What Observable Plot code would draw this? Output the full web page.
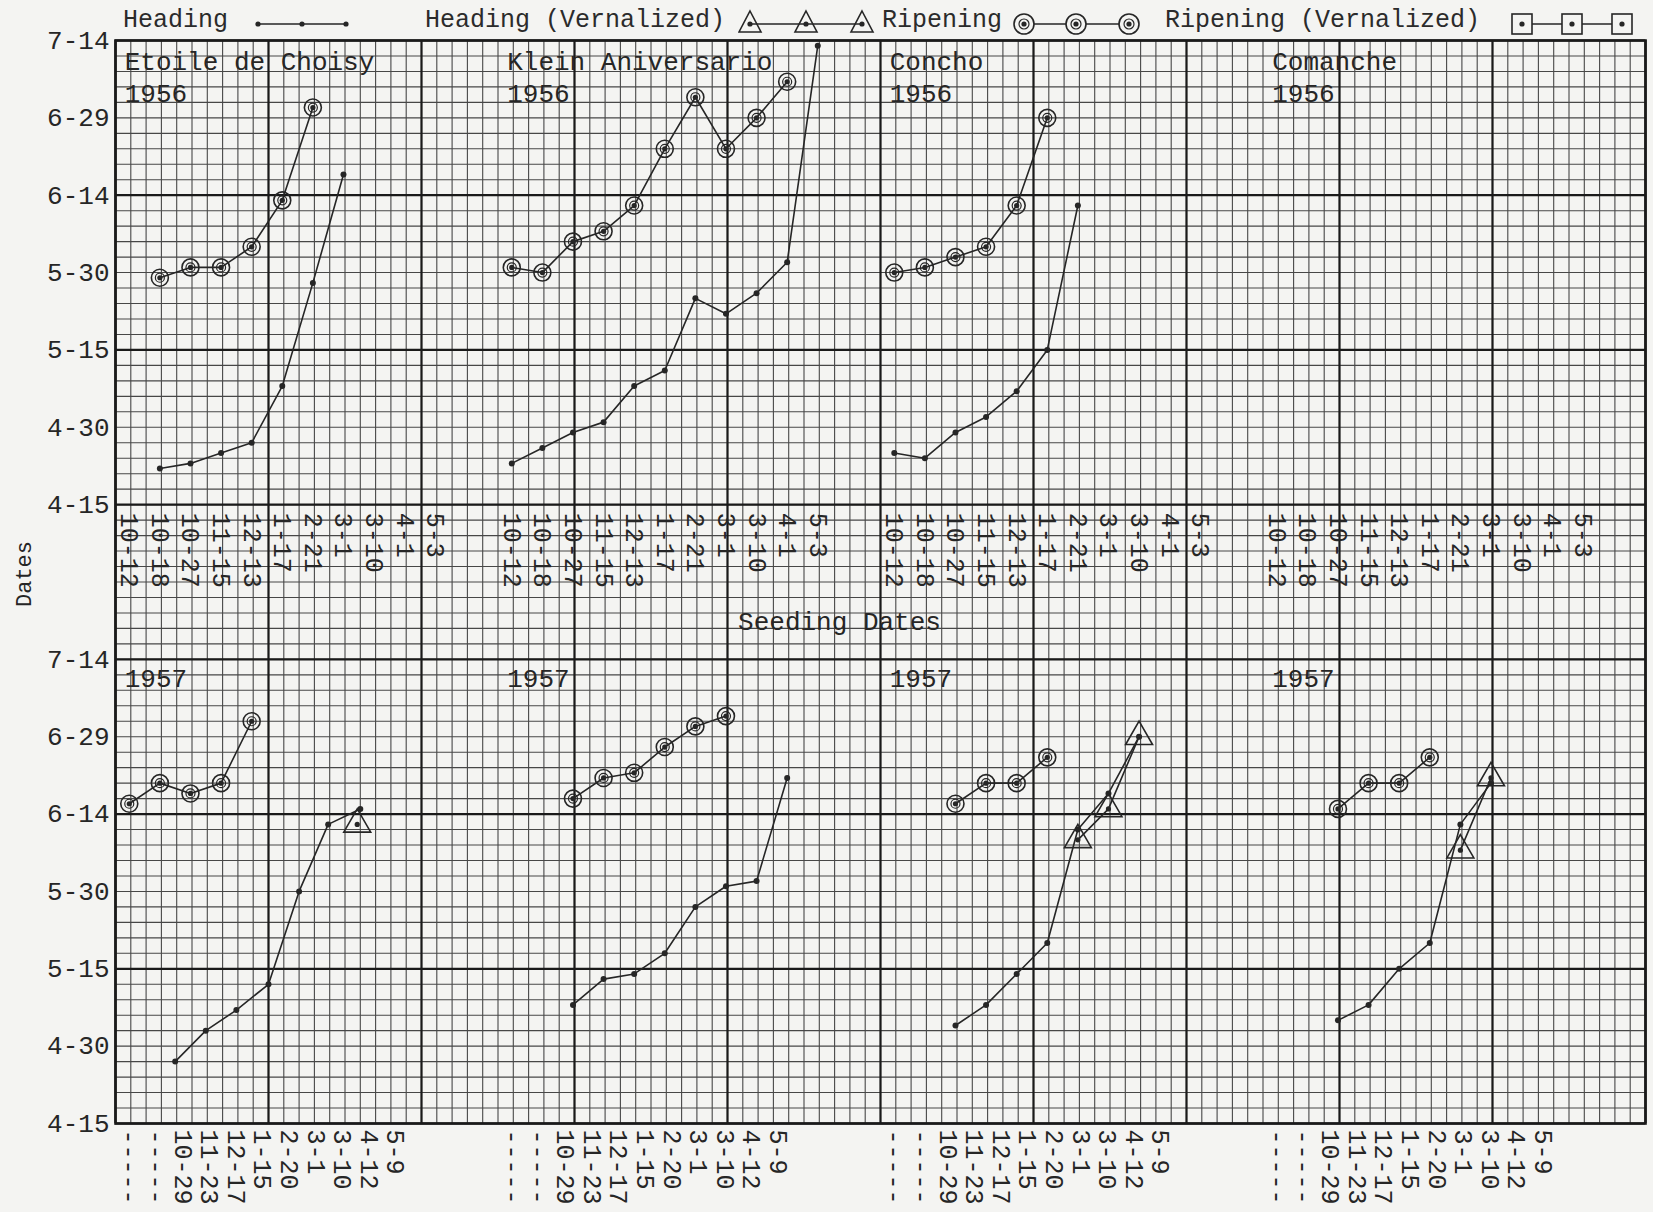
<!DOCTYPE html>
<html>
<head>
<meta charset="utf-8">
<script src="https://cdn.jsdelivr.net/npm/d3@7"></script>
<script src="https://cdn.jsdelivr.net/npm/@observablehq/plot@0.6"></script>
<style>
html, body { margin: 0; padding: 0; background: #f4f4f2; }
#wrap { position: relative; width: 1653px; height: 1212px; overflow: hidden;
  font-family: "Liberation Mono", "DejaVu Sans Mono", monospace; color: #2b2b2b; }
#legend { position: absolute; left: 0; top: 0; width: 1653px; height: 40px; }
.lt { position: absolute; top: 6px; font-size: 25px; line-height: 30px; white-space: nowrap; }
.ls { position: absolute; top: 7px; }
</style>
</head>
<body>
<div id="wrap"><div id="chart"></div><div id="legend"></div></div>
<script>
// ---------- data ----------
const varieties = ["Etoile de Choisy", "Klein Aniversario", "Concho", "Comanche"];
const years = [1956, 1957];
const seeding1956 = ["10-12","10-18","10-27","11-15","12-13","1-17","2-21","3-1","3-10","4-1","5-3"];
const seeding1957 = ["-----","-----","10-29","11-23","12-17","1-15","2-20","3-1","3-10","4-12","5-9"];
const dateTicks = ["4-15","4-30","5-15","5-30","6-14","6-29","7-14"];

// [seeding slot, date (month-day)]
const etoile56Heading  = [[1,"4-22"],[2,"4-23"],[3,"4-25"],[4,"4-27"],[5,"5-8"],[6,"5-28"],[7,"6-18"]];
const etoile56Ripening = [[1,"5-29"],[2,"5-31"],[3,"5-31"],[4,"6-4"],[5,"6-13"],[6,"7-1"]];
const etoile57Heading  = [[1.5,"4-27"],[2.5,"5-3"],[3.5,"5-7"],[4.55,"5-12"],[5.55,"5-30"],[6.5,"6-12"],[7.55,"6-15"]];
const etoile57Ripening = [[0,"6-16"],[1,"6-20"],[2,"6-18"],[3,"6-20"],[4,"7-2"]];
const etoile57HeadingVern = [[7.45,"6-12"]];

const klein56Heading  = [[0,"4-23"],[1,"4-26"],[2,"4-29"],[3,"5-1"],[4,"5-8"],[5,"5-11"],[6,"5-25"],[7,"5-22"],[8,"5-26"],[9,"6-1"],[10,"7-13"]];
const klein56Ripening = [[0,"5-31"],[1,"5-30"],[2,"6-5"],[3,"6-7"],[4,"6-12"],[5,"6-23"],[6,"7-3"],[7,"6-23"],[8,"6-29"],[9,"7-6"]];
const klein57Heading  = [[2,"5-8"],[3,"5-13"],[4,"5-14"],[5,"5-18"],[6,"5-27"],[7,"5-31"],[8,"6-1"],[9,"6-21"]];
const klein57Ripening = [[2,"6-17"],[3,"6-21"],[4,"6-22"],[5,"6-27"],[6,"7-1"],[7,"7-3"]];

const concho56Heading  = [[0,"4-25"],[1,"4-24"],[2,"4-29"],[3,"5-2"],[4,"5-7"],[5,"5-15"],[6,"6-12"]];
const concho56Ripening = [[0,"5-30"],[1,"5-31"],[2,"6-2"],[3,"6-4"],[4,"6-12"],[5,"6-29"]];
const concho57Heading  = [[2,"5-4"],[3,"5-8"],[4,"5-14"],[5,"5-20"],[6,"6-11"],[7,"6-18"],[8,"6-29"]];
const concho57Ripening = [[2,"6-16"],[3,"6-20"],[4,"6-20"],[5,"6-25"]];
const concho57HeadingVern = [[6,"6-9"],[7,"6-15"],[8,"6-29"]];

const comanche57Heading  = [[2,"5-5"],[3,"5-8"],[4,"5-15"],[5,"5-20"],[6,"6-12"],[7,"6-20"]];
const comanche57Ripening = [[2,"6-15"],[3,"6-20"],[4,"6-20"],[5,"6-25"]];
const comanche57HeadingVern = [[6,"6-7"],[7,"6-21"]];

// ---------- layout constants ----------
const PANEL_W = 25;        // grid cells per variety panel
const SLOT_W = 2, SLOT_0 = 0.9;
const STEP57 = 1.74;       // spacing of the typed 1957 labels
const TOP_BASE = 120;      // 1956 row sits 120 days above the 1957 row
const INK = "#262626";
const PAPER = "#f4f4f2";

const days = md => { const [m, d] = md.split("-").map(Number);
  return d3.timeDay.count(new Date(2000, 3, 15), new Date(2000, m - 1, d)); };

const panels = [
  {p: 0, year: 1956, heading: etoile56Heading, ripening: etoile56Ripening, vern: []},
  {p: 0, year: 1957, heading: etoile57Heading, ripening: etoile57Ripening, vern: etoile57HeadingVern},
  {p: 1, year: 1956, heading: klein56Heading, ripening: klein56Ripening, vern: []},
  {p: 1, year: 1957, heading: klein57Heading, ripening: klein57Ripening, vern: []},
  {p: 2, year: 1956, heading: concho56Heading, ripening: concho56Ripening, vern: []},
  {p: 2, year: 1957, heading: concho57Heading, ripening: concho57Ripening, vern: concho57HeadingVern},
  {p: 3, year: 1956, heading: [], ripening: [], vern: []},
  {p: 3, year: 1957, heading: comanche57Heading, ripening: comanche57Ripening, vern: comanche57HeadingVern}
];
const toRows = (list, p, year, series) => list.map(([slot, md]) => ({
  key: `${p}-${year}-${series}`,
  x: p * PANEL_W + SLOT_0 + SLOT_W * slot,
  y: days(md) + (year === 1956 ? TOP_BASE : 0)
}));
const heading = panels.flatMap(d => toRows(d.heading, d.p, d.year, "h"));
const ripening = panels.flatMap(d => toRows(d.ripening, d.p, d.year, "r"));
const vern = panels.flatMap(d => toRows(d.vern, d.p, d.year, "v"));

const yTicks = [0, TOP_BASE].flatMap(b => dateTicks.map(t => b + days(t)));
const yLabel = new Map(yTicks.map((v, i) => [v, dateTicks[i % dateTicks.length]]));

const labels56 = varieties.flatMap((v, p) => seeding1956.map((s, i) => ({x: p * PANEL_W + SLOT_0 + SLOT_W * i, y: TOP_BASE, text: s})));
const labels57 = varieties.flatMap((v, p) => seeding1957.map((s, i) => ({x: p * PANEL_W + SLOT_0 + STEP57 * i, y: 0, text: s})));
const titles = varieties.map((v, p) => ({x: p * PANEL_W + 0.6, y: TOP_BASE + days("7-14"), text: v}));
const year56 = varieties.map((v, p) => ({x: p * PANEL_W + 0.6, y: TOP_BASE + days("7-14"), text: String(years[0])}));
const year57 = varieties.map((v, p) => ({x: p * PANEL_W + 0.6, y: days("7-14"), text: String(years[1])}));

const chart = Plot.plot({
  width: 1653, height: 1212,
  marginLeft: 115, marginRight: 8, marginTop: 40, marginBottom: 89,
  style: {background: "transparent", fontFamily: "Liberation Mono, DejaVu Sans Mono, monospace", fontSize: "26px", color: INK, overflow: "visible"},
  x: {domain: [0, 100], axis: null},
  y: {domain: [0, 210], ticks: yTicks, tickFormat: d => yLabel.get(d), tickSize: 0, tickPadding: 6, label: null},
  marks: [
    Plot.ruleX(d3.range(0, 101), {stroke: "#474747", strokeWidth: 1.1}),
    Plot.ruleY(d3.range(0, 211, 3), {stroke: "#474747", strokeWidth: 1.1}),
    Plot.ruleX(d3.range(0, 101, 10), {stroke: "#1a1a1a", strokeWidth: 2.2}),
    Plot.ruleY(d3.range(0, 211, 30), {stroke: "#1a1a1a", strokeWidth: 2.2}),
    Plot.frame({stroke: "#1a1a1a", strokeWidth: 2.6}),
    Plot.text(labels56, {x: "x", y: "y", text: "text", rotate: 90, textAnchor: "start", dy: 8, fontSize: 25, fill: INK}),
    Plot.text(labels57, {x: "x", y: "y", text: "text", rotate: 90, textAnchor: "start", dy: 6, fontSize: 25, fill: INK}),
    Plot.text(titles, {x: "x", y: "y", text: "text", textAnchor: "start", dy: 21, fontSize: 26, fill: INK}),
    Plot.text(year56, {x: "x", y: "y", text: "text", textAnchor: "start", dy: 53, fontSize: 26, fill: INK}),
    Plot.text(year57, {x: "x", y: "y", text: "text", textAnchor: "start", dy: 19, fontSize: 26, fill: INK}),
    Plot.text(["Dates"], {frameAnchor: "left", text: d => d, rotate: -90, dx: -92, dy: 25, fontSize: 22, fill: INK}),
    Plot.text(["Seeding Dates"], {frameAnchor: "middle", text: d => d, dx: -41, dy: 40, fontSize: 26, fill: INK}),
    Plot.line(heading, {x: "x", y: "y", z: "key", stroke: INK, strokeWidth: 1.6}),
    Plot.line(ripening, {x: "x", y: "y", z: "key", stroke: INK, strokeWidth: 1.6}),
    Plot.line(vern, {x: "x", y: "y", z: "key", stroke: INK, strokeWidth: 1.6}),
    Plot.dot(ripening, {x: "x", y: "y", r: 8.5, stroke: INK, strokeWidth: 1.6, fill: "none"}),
    Plot.dot(ripening, {x: "x", y: "y", r: 4.5, stroke: INK, strokeWidth: 1.2, fill: "none"}),
    Plot.dot(vern, {x: "x", y: "y", symbol: "triangle", r: 10, stroke: INK, strokeWidth: 1.6, fill: "none"}),
    Plot.dot(heading, {x: "x", y: "y", r: 3, fill: INK}),
    Plot.dot(ripening, {x: "x", y: "y", r: 2.6, fill: INK}),
    Plot.dot(vern, {x: "x", y: "y", r: 2.6, fill: INK})
  ]
});
document.getElementById("chart").append(chart);

// ---------- legend (above the plot area) ----------
const legend = d3.select("#legend");
const items = [
  {text: "Heading", left: 123, sample: "heading", sx: 250, xs: [8, 52, 96]},
  {text: "Heading (Vernalized)", left: 425, sample: "triangle", sx: 738, xs: [12, 68, 124]},
  {text: "Ripening", left: 882, sample: "circle", sx: 1008, xs: [16, 68, 121]},
  {text: "Ripening (Vernalized)", left: 1165, sample: "square", sx: 1508, xs: [14, 64, 114]}
];
for (const it of items) {
  legend.append("div").attr("class", "lt").style("left", it.left + "px").text(it.text);
  const s = legend.append("svg").attr("class", "ls").style("left", it.sx + "px")
    .attr("width", 140).attr("height", 30);
  const xs = it.xs;
  s.append("line").attr("x1", xs[0]).attr("x2", xs[2]).attr("y1", 17).attr("y2", 17).attr("stroke", INK).attr("stroke-width", 1.6);
  for (const x of xs) {
    if (it.sample === "triangle") s.append("path").attr("d", `M${x},4 L${x + 11},25 L${x - 11},25 Z`).attr("fill", "none").attr("stroke", INK).attr("stroke-width", 1.6);
    if (it.sample === "circle") { s.append("circle").attr("cx", x).attr("cy", 17).attr("r", 10).attr("fill", PAPER).attr("stroke", INK).attr("stroke-width", 1.6);
      s.append("circle").attr("cx", x).attr("cy", 17).attr("r", 5).attr("fill", "none").attr("stroke", INK).attr("stroke-width", 1.2); }
    if (it.sample === "square") s.append("rect").attr("x", x - 10).attr("y", 7).attr("width", 20).attr("height", 20).attr("fill", PAPER).attr("stroke", INK).attr("stroke-width", 1.6);
    s.append("circle").attr("cx", x).attr("cy", 17).attr("r", 2.6).attr("fill", INK);
  }
}
</script>
</body>
</html>
